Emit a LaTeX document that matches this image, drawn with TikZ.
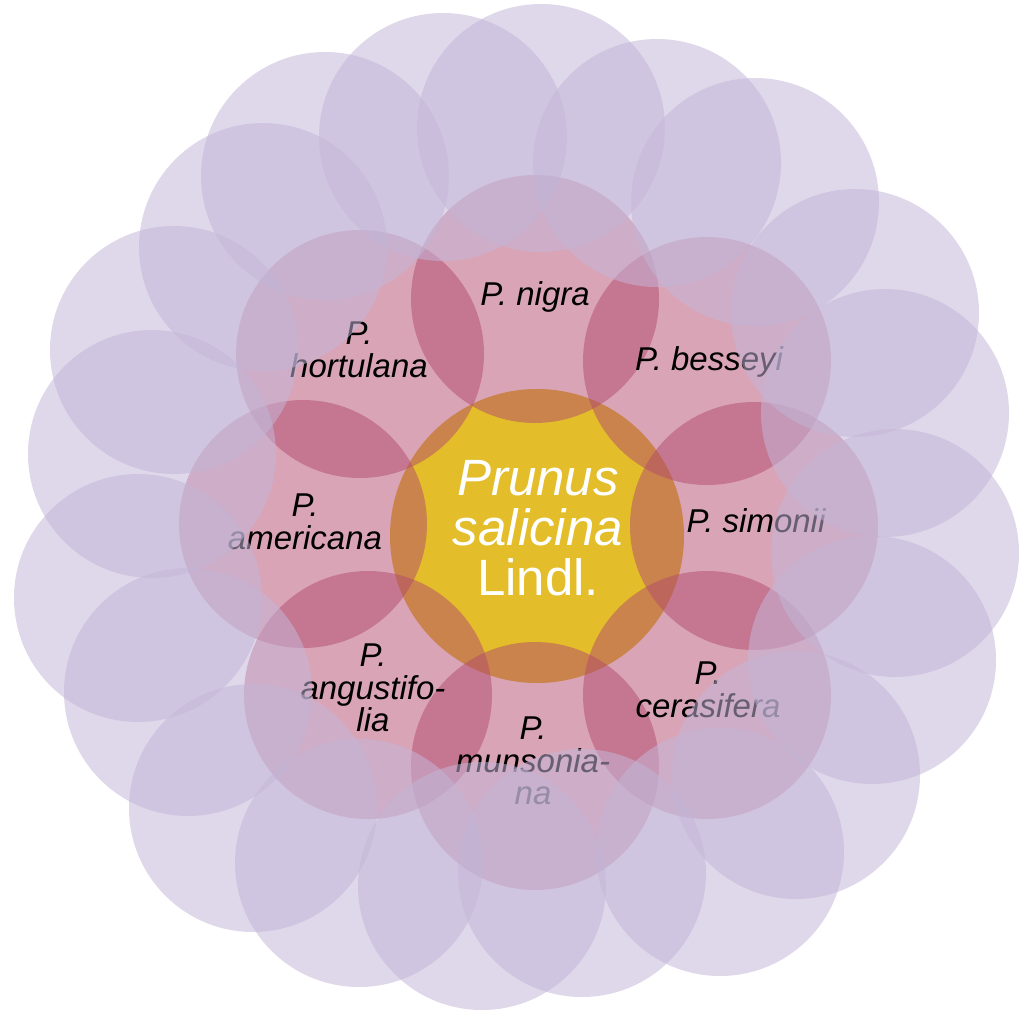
\documentclass[tikz,border=0pt]{standalone}
\usepackage{fontspec}
\setmainfont{Liberation Sans}
\definecolor{coregold}{RGB}{228,189,43}
\definecolor{rosefill}{RGB}{178,74,109}
\definecolor{lavfill}{RGB}{195,181,215}
\begin{document}
\begin{tikzpicture}[x=1pt,y=-1pt,
  corecircle/.style={circle,fill=coregold,minimum size=294pt,inner sep=0pt,outer sep=0pt},
  speciescircle/.style={circle,fill=rosefill,fill opacity=0.5,minimum size=248pt,inner sep=0pt,outer sep=0pt},
  outercircle/.style={circle,fill=lavfill,fill opacity=0.53,minimum size=248pt,inner sep=0pt,outer sep=0pt},
  specieslabel/.style={inner sep=0pt,align=center,text=black,font=\fontsize{33}{32.5}\selectfont\itshape},
  corelabel/.style={inner sep=0pt,align=center,text=white,font=\fontsize{51}{50}\selectfont}]
\useasboundingbox (0,0) rectangle (1019,1010);
% centre
\node[corecircle] (core) at (537,536) {};
% inner ring
\node[speciescircle] (c-nigra) at (535,299) {};
\node[speciescircle] (c-besseyi) at (707,361) {};
\node[speciescircle] (c-simonii) at (754,526) {};
\node[speciescircle] (c-cerasifera) at (707,695) {};
\node[speciescircle] (c-munsoniana) at (535,766) {};
\node[speciescircle] (c-angustifolia) at (368,695) {};
\node[speciescircle] (c-americana) at (303,524) {};
\node[speciescircle] (c-hortulana) at (360,354) {};
% labels
\node[corelabel] (l-core) at (538,528) {\textit{Prunus}\\\textit{salicina}\\Lindl.};
\node[specieslabel] (l-nigra) at (535,297) {P. nigra};
\node[specieslabel] (l-besseyi) at (709,362) {P. besseyi};
\node[specieslabel] (l-simonii) at (756,521) {P. simonii};
\node[specieslabel] (l-cerasifera) at (708,690) {P.\\cerasifera};
\node[specieslabel] (l-munsoniana) at (533,761) {P.\\munsonia-\\na};
\node[specieslabel] (l-angustifolia) at (373,688) {P.\\angustifo-\\lia};
\node[specieslabel] (l-americana) at (305,522) {P.\\americana};
\node[specieslabel] (l-hortulana) at (359,350) {P.\\hortulana};
% outer ring
\node[outercircle] (o1) at (541,128) {};
\node[outercircle] (o2) at (657,163) {};
\node[outercircle] (o3) at (755,202) {};
\node[outercircle] (o4) at (855,313) {};
\node[outercircle] (o5) at (885,413) {};
\node[outercircle] (o6) at (895,553) {};
\node[outercircle] (o7) at (872,660) {};
\node[outercircle] (o8) at (796,775) {};
\node[outercircle] (o9) at (720,852) {};
\node[outercircle] (o10) at (582,873) {};
\node[outercircle] (o11) at (482,886) {};
\node[outercircle] (o12) at (359,863) {};
\node[outercircle] (o13) at (253,808) {};
\node[outercircle] (o14) at (188,692) {};
\node[outercircle] (o15) at (138,598) {};
\node[outercircle] (o16) at (152,454) {};
\node[outercircle] (o17) at (174,350) {};
\node[outercircle] (o18) at (263,247) {};
\node[outercircle] (o19) at (325,176) {};
\node[outercircle] (o20) at (443,137) {};
\end{tikzpicture}
\end{document}
